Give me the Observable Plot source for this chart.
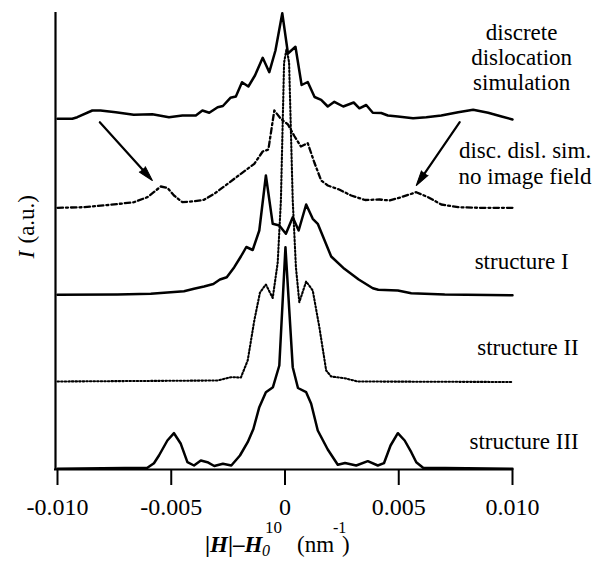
<!DOCTYPE html>
<html><head><meta charset="utf-8">
<script src="https://cdn.jsdelivr.net/npm/d3@7"></script>
<script src="https://cdn.jsdelivr.net/npm/@observablehq/plot@0.6"></script>
<style>
body{margin:0;background:#fff;}
#xlabel{position:relative;width:608px;height:36px;font-family:"Liberation Serif","Times New Roman",serif;color:#000;}
#xlabel span.p{position:absolute;white-space:pre;line-height:1;}
</style></head><body>
<div id="chart"></div>
<div id="xlabel">
  <span class="p" style="left:205px;top:7.7px;font-size:23px;font-weight:bold;">|<i>H</i>|–<i>H</i></span>
  <span class="p" style="left:262px;top:17.6px;font-size:16px;font-style:italic;">0</span>
  <span class="p" style="left:265px;top:-6.2px;font-size:17px;">10</span>
  <span class="p" style="left:297px;top:7.7px;font-size:23px;">(nm</span>
  <span class="p" style="left:333px;top:-5.4px;font-size:16px;">-1</span>
  <span class="p" style="left:342px;top:7.7px;font-size:23px;">)</span>
</div>
<script>
// x tick values and labels (|H| - H0^10, nm^-1)
const xTicks = [-0.010, -0.005, 0, 0.005, 0.010];
const xTickLabels = ["-0.010", "-0.005", "0", "0.005", "0.010"];

// series: [x, intensity (a.u., stacked with offsets)]
const discreteDislocation = [[-0.0100,350.7],[-0.00935,350.7],[-0.00913,352.3],[-0.00847,359],[-0.00811,359],[-0.00744,357.3],[-0.00665,354.7],[-0.00583,355.3],[-0.00510,352.3],[-0.00451,354],[-0.00392,354],[-0.00363,359],[-0.00333,356.7],[-0.00296,362.3],[-0.00273,363.5],[-0.00240,371.7],[-0.00216,373],[-0.00189,387.3],[-0.00161,383],[-0.00132,394],[-0.00098,411.7],[-0.00069,397.3],[-0.00042,419],[-0.00012,456.3],[0.00013,416],[0.00046,422.7],[0.00073,384.5],[0.00100,387.5],[0.00130,372.5],[0.00159,369.7],[0.00188,363],[0.00217,367.7],[0.00256,363],[0.00302,367],[0.00327,361.2],[0.00357,364.5],[0.00386,356.8],[0.00423,356.5],[0.00452,354],[0.00496,353],[0.00563,351.3],[0.00621,352.3],[0.00687,354],[0.00761,357.3],[0.00827,359.7],[0.00893,356.7],[0.00952,353],[0.0100,350]];

const noImageField = [[-0.0100,261.7],[-0.00884,262.3],[-0.00767,264.7],[-0.00664,267.3],[-0.00605,272.3],[-0.00546,283],[-0.00517,281.7],[-0.00488,274],[-0.00451,267.3],[-0.00400,268.3],[-0.00356,269.7],[-0.00311,275.7],[-0.00252,285.7],[-0.00194,295.7],[-0.00135,305.7],[-0.00098,318],[-0.00073,320],[-0.00047,359],[-0.00018,350.7],[0.00013,345],[0.00041,333.5],[0.00070,323],[0.00100,326.3],[0.00129,307],[0.00159,289],[0.00188,284],[0.00238,280],[0.00291,274],[0.00352,269.5],[0.00415,270],[0.00460,269],[0.00511,272.3],[0.00577,277.3],[0.00629,272.3],[0.00687,265],[0.00761,262.3],[0.00849,261.7],[0.0100,261.7]];

const structureI = [[-0.0100,174.7],[-0.00737,175],[-0.00590,175.7],[-0.00444,178.3],[-0.00400,180.7],[-0.00356,183],[-0.00315,185.5],[-0.00286,190],[-0.00256,192.3],[-0.00223,202.3],[-0.00194,213],[-0.00170,222.5],[-0.00142,219.5],[-0.00113,239],[-0.00084,294],[-0.00054,245.7],[-0.00025,244],[0.00004,235.7],[0.00034,252.3],[0.00060,239],[0.00093,265],[0.00122,250.7],[0.00144,245.7],[0.00203,213],[0.00261,200.7],[0.00324,190],[0.00386,181.3],[0.00410,179.7],[0.00496,179],[0.00555,176.3],[0.00702,175],[0.0100,174.3]];

const structureII = [[-0.0100,88],[-0.00296,89],[-0.00238,92.3],[-0.00194,92],[-0.00164,109],[-0.00135,149],[-0.00110,177],[-0.00084,185],[-0.00054,171.5],[-0.00032,207],[-0.00018,269],[-0.00004,407],[0.00007,421],[0.00018,407],[0.00034,269],[0.00048,202.3],[0.00063,167.3],[0.00093,188],[0.00122,179],[0.00151,142.3],[0.00181,99],[0.00203,93],[0.00261,91.3],[0.00320,88],[0.0100,87.5]];

const structureIII = [[-0.0100,0.7],[-0.00605,1.7],[-0.00576,6.3],[-0.00554,14],[-0.00517,29],[-0.00488,36.3],[-0.00458,25.7],[-0.00429,7.3],[-0.00400,4],[-0.00370,9],[-0.00341,7.3],[-0.00311,3.5],[-0.00273,5.7],[-0.00236,4],[-0.00198,14],[-0.00164,27.3],[-0.00139,40.5],[-0.00113,62.3],[-0.00084,77.3],[-0.00053,82.3],[-0.00025,104],[0.00002,222.3],[0.00034,102.3],[0.00057,81.5],[0.00093,77.3],[0.00115,65.7],[0.00144,39],[0.00188,20],[0.00232,4.7],[0.00264,6.5],[0.00313,4],[0.00364,8.3],[0.00408,4],[0.00435,6.3],[0.00464,24],[0.00496,36.3],[0.00526,29],[0.00555,17.3],[0.00577,7.3],[0.00607,1.7],[0.0100,0.7]];

// curve labels
const curveLabels = ["discrete\ndislocation\nsimulation", "disc. disl. sim.\nno image field", "structure I", "structure II", "structure III"];
const curveLabelX = [0.01040, 0.01055, 0.01040, 0.01068, 0.01051];
const curveLabelY = [412.5, 306.5, 209, 122.3, 29];

// arrows pointing at the satellite peaks of the no-image-field curve
const arrowX1 = [-0.00814, 0.00768];
const arrowY1 = [347.3, 347.3];
const arrowX2 = [-0.00583, 0.00577];
const arrowY2 = [289, 284];
const arrowAngle = [138, 214.4];

const yLabelParts = ["I", "(a.u.)"];

const px = d => d[0], py = d => d[1];
const idx = a => a.map((_, i) => i);

const chart = Plot.plot({
  width: 608, height: 525,
  marginLeft: 57, marginRight: 96, marginTop: 12, marginBottom: 56,
  style: {fontFamily: '"Liberation Serif", "Times New Roman", serif', fontSize: "23px", background: "#fff", color: "#000"},
  x: {domain: [-0.01, 0.01]},
  y: {domain: [0, 457], axis: null},
  marks: [
    Plot.ruleX([-0.01], {y1: 0, y2: 457, dx: -2, strokeWidth: 2.2}),
    Plot.ruleY([0], {x1: -0.01, x2: 0.01, insetLeft: -3, strokeWidth: 2.2}),
    Plot.axisX({ticks: xTicks, tickFormat: d => xTickLabels[xTicks.indexOf(d)], tickSize: 16, tickPadding: 12.5, fontSize: 24, strokeWidth: 2, label: null}),
    Plot.line(discreteDislocation, {x: px, y: py, strokeWidth: 2.5}),
    Plot.line(noImageField, {x: px, y: py, strokeWidth: 2.3, strokeDasharray: "5.5,3,2,3"}),
    Plot.line(structureI, {x: px, y: py, strokeWidth: 2.5}),
    Plot.line(structureII, {x: px, y: py, strokeWidth: 2.1, strokeDasharray: "1.5,2.1"}),
    Plot.line(structureIII, {x: px, y: py, strokeWidth: 2.5}),
    Plot.arrow(idx(arrowX1), {x1: i => arrowX1[i], y1: i => arrowY1[i], x2: i => arrowX2[i], y2: i => arrowY2[i], headLength: 0, insetEnd: 6, strokeWidth: 2.2}),
    Plot.vector(idx(arrowX2), {x: i => arrowX2[i], y: i => arrowY2[i], rotate: i => arrowAngle[i], shape: "spike", anchor: "end", length: 15, r: 4, fill: "#000", stroke: "#000", strokeWidth: 1}),
    Plot.text(idx(curveLabels), {x: i => curveLabelX[i], y: i => curveLabelY[i], text: i => curveLabels[i], textAnchor: "middle", lineAnchor: "middle", lineHeight: 1.1, fontSize: 23, fill: "#000"}),
    Plot.text([yLabelParts[0]], {text: d => d, frameAnchor: "left", rotate: -90, textAnchor: "start", lineAnchor: "bottom", dx: -24, dy: 17.5, fontStyle: "italic", fontSize: 23, fill: "#000"}),
    Plot.text([yLabelParts[1]], {text: d => d, frameAnchor: "left", rotate: -90, textAnchor: "start", lineAnchor: "bottom", dx: -24, dy: 2.5, fontSize: 23, fill: "#000"})
  ]
});
document.getElementById("chart").appendChild(chart);
</script></body></html>
